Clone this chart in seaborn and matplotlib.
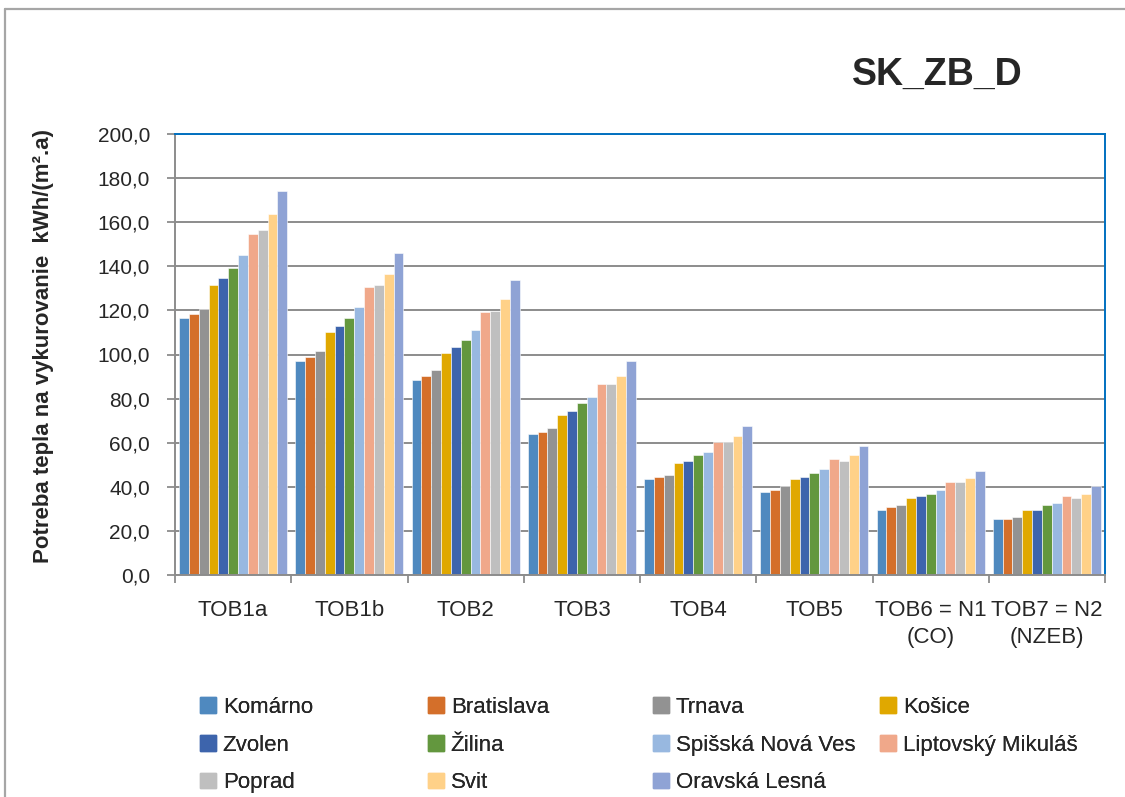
import numpy as np
import matplotlib.pyplot as plt
import seaborn as sns
import pandas as pd
from matplotlib.lines import Line2D
from matplotlib.ticker import FixedLocator, FuncFormatter

categories = ['TOB1a', 'TOB1b', 'TOB2', 'TOB3', 'TOB4', 'TOB5',
              'TOB6 = N1\n(CO)', 'TOB7 = N2\n(NZEB)']
cities = ['Komárno', 'Bratislava', 'Trnava', 'Košice', 'Zvolen', 'Žilina',
          'Spišská Nová Ves', 'Liptovský Mikuláš', 'Poprad', 'Svit', 'Oravská Lesná']
colors = ['#4F89BF', '#D46F2A', '#929292', '#E0A800', '#3D64AC', '#63973E',
          '#98B8E0', '#F0A88A', '#BFBFBF', '#FFD188', '#8FA3D5']

komarno = [116.5, 97.1, 88.5, 63.9, 43.7, 37.6, 29.7, 25.4]
bratislava = [118.2, 98.9, 90.1, 64.8, 44.6, 38.4, 30.7, 25.4]
trnava = [120.6, 101.5, 92.9, 66.5, 45.5, 40.2, 31.6, 26.3]
kosice = [131.3, 110.3, 100.8, 72.5, 50.7, 43.7, 35.1, 29.7]
zvolen = [134.7, 112.9, 103.3, 74.4, 51.6, 44.6, 36.0, 29.7]
zilina = [139.3, 116.4, 106.8, 78.0, 54.2, 46.3, 36.9, 31.6]
spisska = [145.2, 121.7, 111.2, 80.6, 56.0, 48.1, 38.4, 32.5]
liptovsky = [154.8, 130.5, 119.4, 86.6, 60.4, 52.5, 42.0, 36.0]
poprad = [156.6, 131.3, 119.9, 86.6, 60.4, 51.6, 42.0, 35.1]
svit = [163.6, 136.6, 125.2, 90.1, 63.0, 54.2, 43.9, 36.9]
oravska = [174.2, 146.1, 134.0, 97.1, 67.4, 58.6, 47.3, 40.4]

series = [komarno, bratislava, trnava, kosice, zvolen, zilina,
          spisska, liptovsky, poprad, svit, oravska]

rows = []
for city, vals in zip(cities, series):
    for cat, v in zip(categories, vals):
        rows.append({'kategoria': cat, 'mesto': city, 'hodnota': v})
df = pd.DataFrame(rows)

sns.set_theme(style='white')
plt.rcParams['font.family'] = ['Liberation Sans', 'DejaVu Sans']

fig = plt.figure(figsize=(11.25, 7.97), dpi=100)
ax = fig.add_axes([175 / 1125, 1 - 575 / 797, 930 / 1125, 441 / 797])

sns.barplot(data=df, x='kategoria', y='hodnota', hue='mesto', order=categories,
            hue_order=cities, palette=colors, width=0.93, gap=0,
            saturation=1, edgecolor='white', linewidth=0.4, legend=False, ax=ax)

ax.set_ylim(0, 200)
ax.set_yticks(np.arange(0, 201, 20))
ax.yaxis.set_major_formatter(FuncFormatter(lambda v, p: f'{v:.1f}'.replace('.', ',')))
ax.yaxis.grid(True, color='#8C8C8C', linewidth=1.4)
ax.set_axisbelow(True)
ax.set_xlim(-0.5, len(categories) - 0.5)

ax.tick_params(axis='y', which='major', length=6, width=1.3, color='#8C8C8C',
               direction='out', labelsize=15, pad=12, left=True)
ax.tick_params(axis='x', which='major', length=0, labelsize=16, pad=18)
ax.xaxis.set_minor_locator(FixedLocator(np.arange(-0.5, len(categories), 1.0)))
ax.tick_params(axis='x', which='minor', length=6, width=1.3, color='#8C8C8C',
               direction='out', bottom=True)
for lab in ax.get_xticklabels():
    lab.set_linespacing(1.4)
    lab.set_verticalalignment('top')

for side in ['left', 'bottom']:
    ax.spines[side].set_color('#8C8C8C')
    ax.spines[side].set_linewidth(1.4)
for side in ['top', 'right']:
    ax.spines[side].set_color('#0070C0')
    ax.spines[side].set_linewidth(1.4)

ax.set_xlabel('')
ax.set_ylabel('Potreba tepla na vykurovanie  kWh/(m².a)', fontsize=16,
              fontweight='bold', va='center')
ax.yaxis.set_label_coords((44 - 175) / 930, (575 - 346) / 441)

fig.text(937 / 1125, 1 - 75 / 797, 'SK_ZB_D', ha='center', va='center',
         fontsize=27, fontweight='bold')

# legend: 4 fixed-width columns, filled row by row
handles = [plt.Rectangle((0, 0), 1, 1, color=c) for c in colors]
col_x = [200, 428, 653, 880]
for j, x in enumerate(col_x):
    idx = list(range(j, len(cities), 4))
    leg = fig.legend([handles[i] for i in idx], [cities[i] for i in idx],
                     loc='upper left', bbox_to_anchor=(x / 1125, 1 - 697 / 797),
                     frameon=False, fontsize=16, handlelength=0.72, handleheight=0.72,
                     handletextpad=0.3, labelspacing=0.75, borderpad=0, borderaxespad=0)
    fig.add_artist(leg)

# outer chart border (left and top edge visible)
fig.add_artist(Line2D([4.5 / 1125, 4.5 / 1125], [0, 1 - 9 / 797],
                      transform=fig.transFigure, color='#A6A6A6', linewidth=1.6))
fig.add_artist(Line2D([4.5 / 1125, 1], [1 - 9 / 797, 1 - 9 / 797],
                      transform=fig.transFigure, color='#A6A6A6', linewidth=1.6))

plt.savefig('out.png', dpi=100)
